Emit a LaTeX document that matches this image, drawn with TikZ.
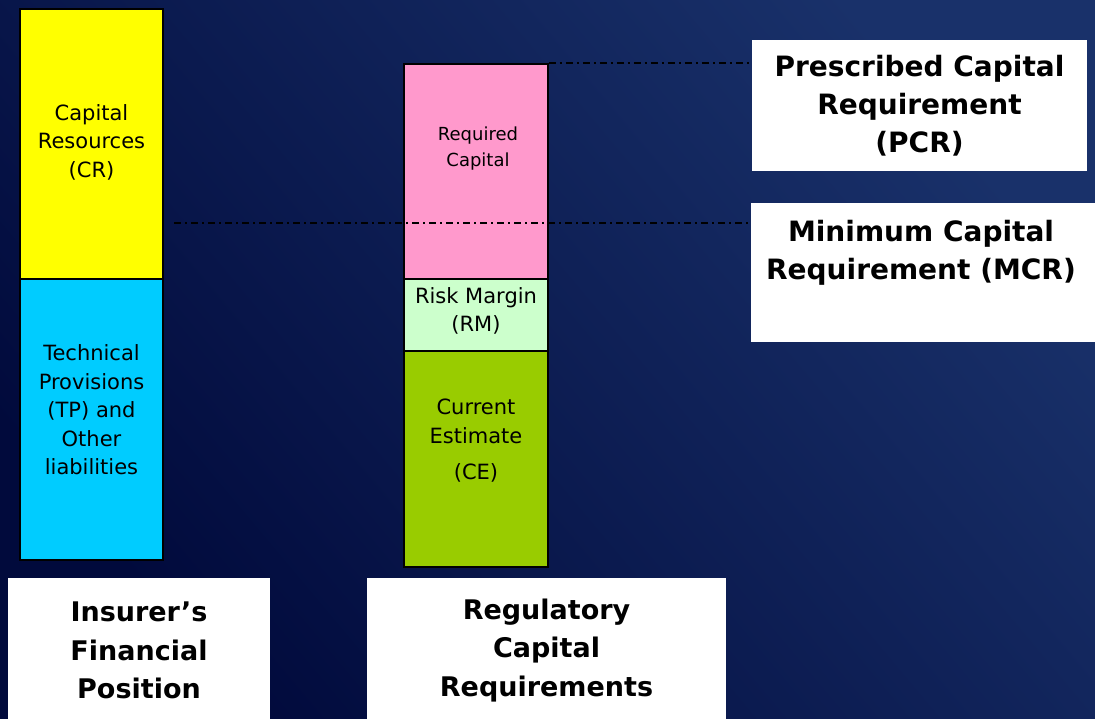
\documentclass[tikz,border=0pt]{standalone}
\usepackage{fontspec}
\setmainfont{DejaVu Sans}
\definecolor{bgdark}{HTML}{010A3C}
\definecolor{bglight}{HTML}{19316A}
\definecolor{crfill}{HTML}{FFFF00}
\definecolor{tpfill}{HTML}{00CCFF}
\definecolor{rcfill}{HTML}{FF99CC}
\definecolor{rmfill}{HTML}{CCFFCC}
\definecolor{cefill}{HTML}{99CC00}
\tikzset{
	bar/.style={draw=black, line width=1.5pt, minimum width=143pt, inner sep=0pt},
	bartext/.style={align=center, font=\fontsize{21}{28.5}\selectfont},
	tagbox/.style={fill=white, inner sep=0pt},
	tagtext/.style={align=center, font=\bfseries\fontsize{28}{38}\selectfont},
	level/.style={line width=1.6pt, dash pattern=on 7pt off 4pt on 2pt off 4pt}
}
\begin{document}
\begin{tikzpicture}[x=1pt, y=-1pt]
		\shade[bottom color=bgdark, top color=bglight, shading angle=-50] (0, 0) rectangle (1095, 719);
		\useasboundingbox (0, 0) rectangle (1095, 719);
		\node[bar, fill=crfill, minimum height=270pt] (cr) at (91.5, 144) {};
		\node[bar, fill=tpfill, minimum height=281pt] (tp) at (91.5, 419.5) {};
		\node[bar, fill=rcfill, minimum width=144pt, minimum height=215pt] (rc) at (476, 171.5) {};
		\node[bar, fill=rmfill, minimum width=144pt, minimum height=72pt] (rm) at (476, 315) {};
		\node[bar, fill=cefill, minimum width=144pt, minimum height=216pt] (ce) at (476, 459) {};
		\node[bartext] (cr-txt) at (91.5, 142) {Capital\\Resources\\(CR)};
		\node[bartext] (tp-txt) at (91.5, 410) {Technical\\Provisions\\(TP) and\\Other\\liabilities};
		\node[bartext, font=\fontsize{18}{26}\selectfont] (rc-txt) at (478, 149) {Required\\Capital};
		\node[bartext] (rm-txt) at (476, 311) {Risk Margin\\(RM)};
		\node[bartext] (ce-txt) at (476, 441) {Current\\Estimate\\[8pt](CE)};
		\coordinate (mcr-tail) at (174, 223);
		\node[tagbox, tagtext, minimum width=335pt, minimum height=131pt] (pcr) at (919.5, 105.5) {Prescribed Capital\\Requirement\\(PCR)};
		\node[tagbox, minimum width=348pt, minimum height=139pt] (mcr) at (925, 272.5) {};
		\node[tagtext] (mcr-txt) at (921, 253) {Minimum Capital\\Requirement (MCR)};
		\draw[level] (rc.north east) -- (rc.north east -| pcr.west);
		\draw[level] (mcr-tail) -- (mcr-tail -| mcr.west);
		\node[tagbox, tagtext, font=\bfseries\fontsize{27}{38.5}\selectfont, minimum width=262pt, minimum height=145pt] (ifp) at (139, 650.5) {Insurer’s\\Financial\\Position};
		\node[tagbox, tagtext, font=\bfseries\fontsize{27}{38.5}\selectfont, minimum width=359pt, minimum height=145pt] (rcr) at (546.5, 650.5) {Regulatory\\Capital\\Requirements};
	\end{tikzpicture}
\end{document}
